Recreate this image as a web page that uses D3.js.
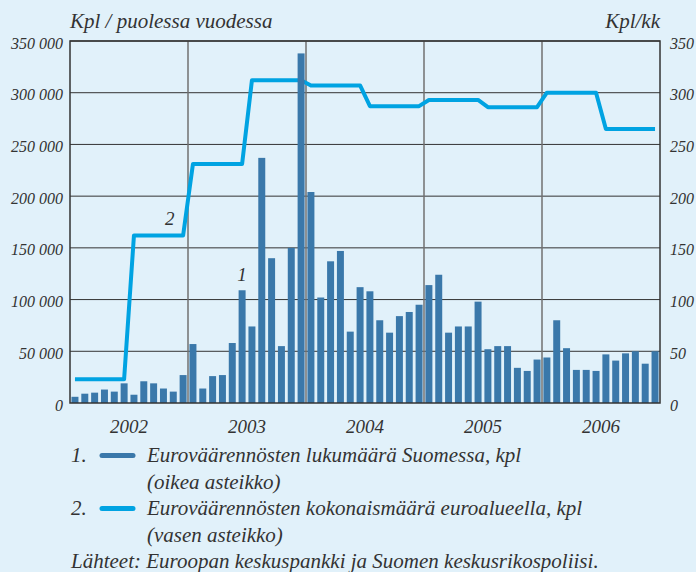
<!DOCTYPE html>
<html>
<head>
<meta charset="utf-8">
<script src="https://cdn.jsdelivr.net/npm/d3@7"></script>
<style>
  body { margin: 0; background: #e1f1fa; }
  svg { display: block; }
  text { font-family: "Liberation Serif", "DejaVu Serif", serif; font-style: italic; fill: #333; }
</style>
</head>
<body>
<div id="chart"></div>
<script>
// years on the x axis
const years = ['2002', '2003', '2004', '2005', '2006'];

// 1. counterfeits found in Finland, per month (right axis)
const finlandMonthly = [
  6, 9, 10, 13, 11, 19, 8, 21, 19, 14, 11, 27,
  57, 14, 26, 27, 58, 109, 74, 237, 140, 55, 150, 338,
  204, 102, 137, 147, 69, 112, 108, 80, 68, 84, 88, 95,
  114, 124, 68, 74, 74, 98, 52, 55, 55, 34, 31, 42,
  44, 80, 53, 32, 32, 31, 47, 41, 48, 50, 38, 50
];

// 2. counterfeits in the euro area, per half year (left axis)
const euroAreaHalfYear = [
  23000, 162000, 231000, 312000, 307000, 287000, 293000, 286000, 300000, 265000
];

const leftTicks = [0, 50000, 100000, 150000, 200000, 250000, 300000, 350000];
const rightTicks = [0, 50, 100, 150, 200, 250, 300, 350];

const width = 696, height = 572;
const plot = { left: 70, right: 660, top: 41, bottom: 403 };

const svg = d3.select('#chart').append('svg')
  .attr('width', width)
  .attr('height', height);

const months = d3.range(finlandMonthly.length);

const x = d3.scaleBand()
  .domain(months)
  .range([plot.left, plot.right])
  .paddingInner(0.29)
  .paddingOuter(0.15);

const xYear = d3.scaleBand()
  .domain(years)
  .range([plot.left, plot.right]);

const yLeft = d3.scaleLinear().domain([0, 350000]).range([plot.bottom, plot.top]);
const yRight = d3.scaleLinear().domain([0, 350]).range([plot.bottom, plot.top]);

// horizontal grid
svg.append('g')
  .selectAll('line')
  .data(rightTicks.slice(1))
  .join('line')
  .attr('x1', plot.left).attr('x2', plot.right)
  .attr('y1', d => yRight(d)).attr('y2', d => yRight(d))
  .attr('stroke', '#333').attr('stroke-width', 1);

// vertical year grid
svg.append('g')
  .selectAll('line')
  .data(years.slice(1))
  .join('line')
  .attr('x1', d => xYear(d)).attr('x2', d => xYear(d))
  .attr('y1', plot.top).attr('y2', plot.bottom)
  .attr('stroke', '#707070').attr('stroke-width', 1.5);

// euro area line: half-year total shown on each of its six months
const lineData = months.map(i => ({ i, v: euroAreaHalfYear[Math.floor(i / 6)] }));
const line = d3.line()
  .x(d => x(d.i) + x.bandwidth() / 2)
  .y(d => yLeft(d.v));

svg.append('path')
  .datum(lineData)
  .attr('d', line)
  .attr('fill', 'none')
  .attr('stroke', '#00a3e2')
  .attr('stroke-width', 4)
  .attr('stroke-linejoin', 'round');

// bars for Finland
svg.append('g')
  .selectAll('rect')
  .data(finlandMonthly)
  .join('rect')
  .attr('x', (d, i) => x(i))
  .attr('y', d => yRight(d))
  .attr('width', x.bandwidth())
  .attr('height', d => plot.bottom - yRight(d))
  .attr('fill', '#3a78aa');

// frame
svg.append('rect')
  .attr('x', plot.left).attr('y', plot.top)
  .attr('width', plot.right - plot.left).attr('height', plot.bottom - plot.top)
  .attr('fill', 'none').attr('stroke', '#333').attr('stroke-width', 1.5);

// left axis labels
svg.append('g')
  .attr('transform', `translate(${plot.left},2)`)
  .call(d3.axisLeft(yLeft).tickValues(leftTicks).tickSize(0).tickPadding(7)
    .tickFormat(d => d === 0 ? '0' : d3.format(',')(d).replace(/,/g, ' ')))
  .call(g => g.select('.domain').remove())
  .selectAll('text')
  .attr('font-size', 16);

// right axis labels
svg.append('g')
  .attr('transform', `translate(${plot.right},2)`)
  .call(d3.axisRight(yRight).tickValues(rightTicks).tickSize(0).tickPadding(10))
  .call(g => g.select('.domain').remove())
  .selectAll('text')
  .attr('font-size', 16);

// year labels
svg.append('g')
  .attr('transform', `translate(0,${plot.bottom})`)
  .call(d3.axisBottom(xYear).tickSize(0).tickPadding(17))
  .call(g => g.select('.domain').remove())
  .selectAll('text')
  .attr('font-size', 19);

svg.selectAll('.tick text').attr('fill', '#333')
  .style('font-family', '"Liberation Serif", serif').style('font-style', 'italic');

// axis titles
svg.append('text').attr('x', plot.left).attr('y', 28).attr('font-size', 21)
  .text('Kpl / puolessa vuodessa');
svg.append('text').attr('x', plot.right).attr('y', 28).attr('font-size', 21)
  .attr('text-anchor', 'end').text('Kpl/kk');

// series numbers inside the plot
svg.append('text').attr('x', x(17) + x.bandwidth() / 2).attr('y', yRight(118))
  .attr('font-size', 19).attr('text-anchor', 'middle').text('1');
svg.append('text').attr('x', x(10)).attr('y', yLeft(172000))
  .attr('font-size', 19).attr('text-anchor', 'middle').text('2');

// legend
const legend = [
  { n: '1.', color: '#3a78aa', lines: ['Euroväärennösten lukumäärä Suomessa, kpl', '(oikea asteikko)'] },
  { n: '2.', color: '#00a3e2', lines: ['Euroväärennösten kokonaismäärä euroalueella, kpl', '(vasen asteikko)'] }
];
legend.forEach((item, k) => {
  const y0 = 462 + k * 53;
  svg.append('text').attr('x', 71).attr('y', y0).attr('font-size', 21).text(item.n);
  svg.append('line')
    .attr('x1', 102).attr('x2', 133).attr('y1', y0 - 6.5).attr('y2', y0 - 6.5)
    .attr('stroke', item.color).attr('stroke-width', 5).attr('stroke-linecap', 'round');
  item.lines.forEach((t, j) => {
    svg.append('text').attr('x', 147).attr('y', y0 + j * 27).attr('font-size', 21).text(t);
  });
});
svg.append('text').attr('x', 71).attr('y', 568).attr('font-size', 21)
  .text('Lähteet: Euroopan keskuspankki ja Suomen keskusrikospoliisi.');
</script>
</body>
</html>
